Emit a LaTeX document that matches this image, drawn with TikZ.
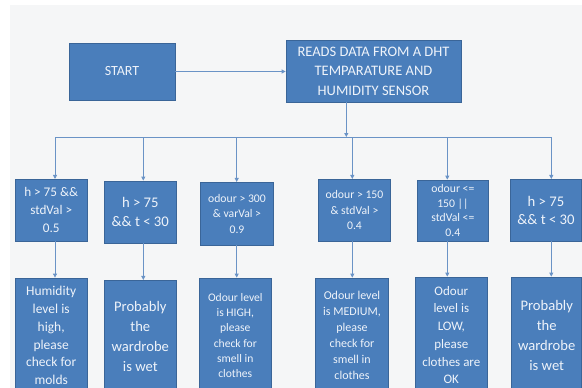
\documentclass[tikz,border=0pt]{standalone}
\usepackage{fontspec}
\setmainfont{Carlito}
\usetikzlibrary{arrows.meta}
\definecolor{bg}{HTML}{F5F6F7}
\definecolor{boxfill}{HTML}{4A7EBB}
\definecolor{boxline}{HTML}{3A6598}
\definecolor{boxtext}{HTML}{EEF3FA}
\definecolor{conn}{HTML}{6A93C6}
\tikzset{
  box/.style={draw=boxline, fill=boxfill, line width=0.8pt, text=boxtext, align=center, inner sep=0pt, anchor=center},
  link/.style={draw=conn, line width=0.8pt, -{Triangle[length=4pt,width=4pt]}},
  plainlink/.style={draw=conn, line width=0.8pt},
  fs/.style 2 args={font=\fontsize{#1}{#2}\selectfont}
}
\begin{document}
\begin{tikzpicture}[x=1pt,y=-1pt]
\useasboundingbox (0,0) rectangle (582,388);
\clip (0,0) rectangle (582,388);
\fill[white] (0,0) rectangle (582,388);
\fill[bg] (10,5) rectangle (582,388);

\node[box, minimum width=106pt, minimum height=57pt, fs={14}{18}] (start) at (122,71.5) {START};
\node[box, minimum width=175pt, minimum height=62pt, fs={14.5}{19.5}] (reads) at (373.5,71) {READS DATA FROM A DHT\\TEMPARATURE AND\\HUMIDITY SENSOR};

\node[box, minimum width=72.3pt, minimum height=61.7pt, fs={13.2}{18}] (c1) at (51.2,210.2) {h > 75 \&\&\\stdVal >\\0.5};
\node[box, minimum width=72.7pt, minimum height=62pt, fs={14.7}{18.5}] (c2) at (140.3,212) {h > 75\\\&\& t < 30};
\node[box, minimum width=72.6pt, minimum height=62.7pt, fs={11.7}{15.7}] (c3) at (237,213.7) {odour > 300\\\& varVal >\\0.9};
\node[box, minimum width=72.4pt, minimum height=61.7pt, fs={11.7}{15.7}] (c4) at (354.5,210.2) {odour > 150\\\& stdVal >\\0.4};
\node[box, minimum width=71.7pt, minimum height=61pt, fs={11.7}{14.5}] (c5) at (452.9,210.5) {odour <=\\150 ||\\stdVal <=\\0.4};
\node[box, minimum width=71.4pt, minimum height=61.7pt, fs={14.7}{18.5}] (c6) at (546,210.2) {h > 75\\\&\& t < 30};

\node[box, minimum width=72.3pt, minimum height=115pt, fs={13.5}{17.8}] (r1) at (51.2,335.5) {Humidity\\level is\\high,\\please\\check for\\molds};
\node[box, minimum width=72.7pt, minimum height=112.7pt, fs={14.6}{20}] (r2) at (140.3,336.7) {Probably\\the\\wardrobe\\is wet};
\node[box, minimum width=72.7pt, minimum height=115pt, fs={11.6}{15.3}] (r3) at (235.3,335.5) {Odour level\\is HIGH,\\please\\check for\\smell in\\clothes};
\node[box, minimum width=72.6pt, minimum height=115pt, fs={12}{16}] (r4) at (352,335.5) {Odour level\\is MEDIUM,\\please\\check for\\smell in\\clothes};
\node[box, minimum width=72.7pt, minimum height=116pt, fs={13}{17.7}] (r5) at (451.3,335) {Odour\\level is\\LOW,\\please\\clothes are\\OK};
\node[box, minimum width=70pt, minimum height=116pt, fs={14.6}{20}] (r6) at (546.7,335) {Probably\\the\\wardrobe\\is wet};

\coordinate (busin) at (346.3,137);
\coordinate (b1) at (55,137);
\coordinate (b2) at (143.3,137);
\coordinate (b3) at (236.7,137);
\coordinate (b4) at (352.3,137);
\coordinate (b5) at (447.3,137);
\coordinate (b6) at (551.3,137);

\draw[link] (start.east) -- (start.east -| reads.west);
\draw[plainlink] (b1) -- (b6);
\draw[link] (reads.south -| busin) -- (busin);
\foreach \i in {1,...,6} {
  \draw[link] (b\i) -- (c\i.north -| b\i);
  \draw[link] (c\i.south -| b\i) -- (r\i.north -| b\i);
}
\end{tikzpicture}
\end{document}
